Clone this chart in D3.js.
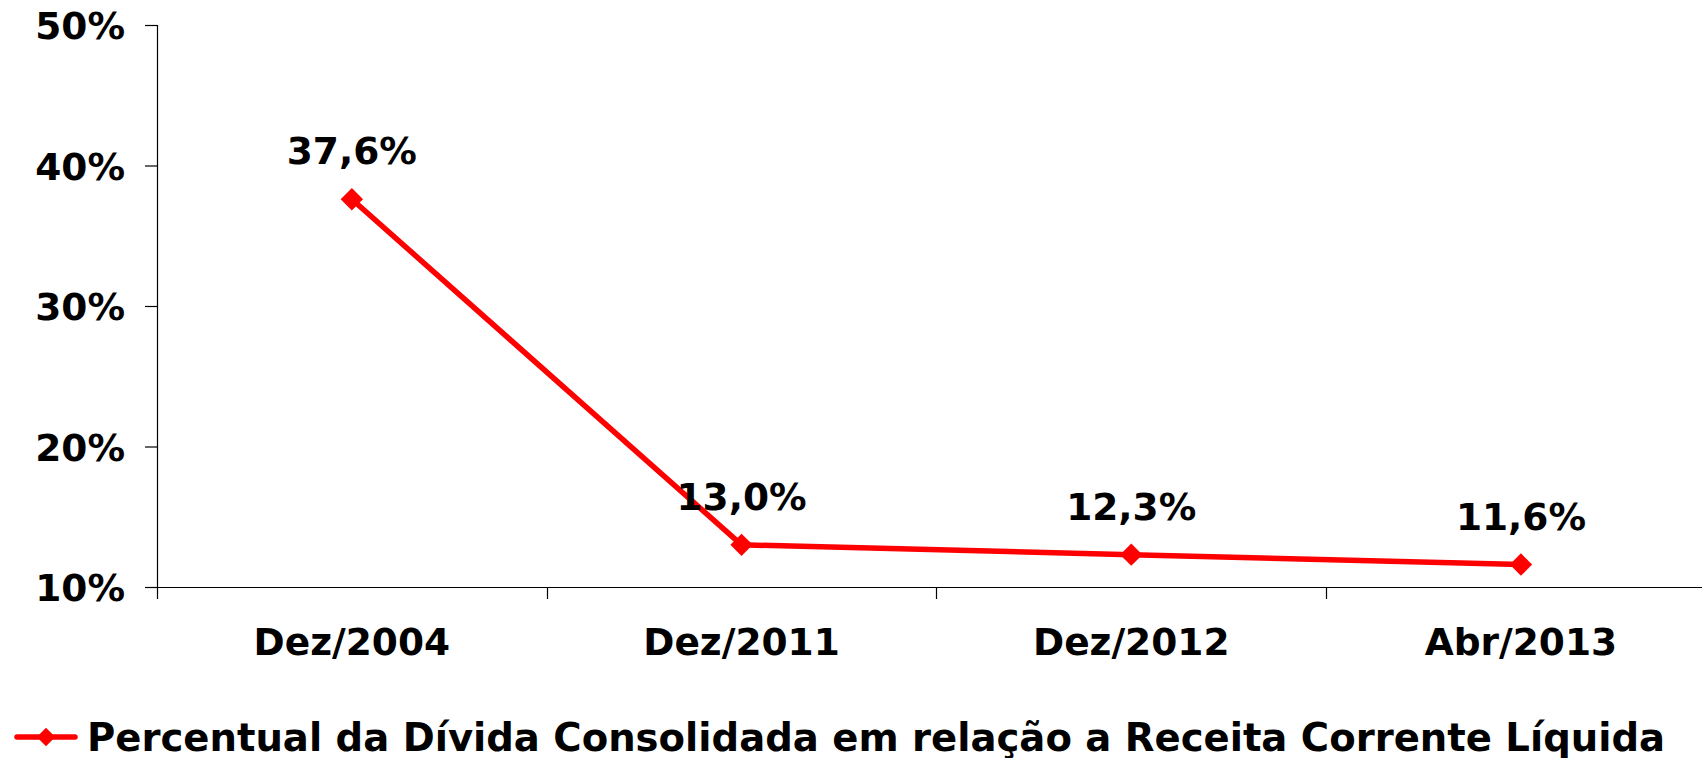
<!DOCTYPE html>
<html>
<head>
<meta charset="utf-8">
<script src="https://cdn.jsdelivr.net/npm/d3@7"></script>
<style>
  html, body { margin: 0; padding: 0; background: #fff; }
  svg { display: block; }
  text { font-family: "DejaVu Sans", sans-serif; font-weight: bold; fill: #000; }
</style>
</head>
<body>
<svg id="chart" width="1702" height="758"></svg>
<script>
const categories = ["Dez/2004", "Dez/2011", "Dez/2012", "Abr/2013"];
const values = [37.6, 13.0, 12.3, 11.6];
const valueLabels = ["37,6%", "13,0%", "12,3%", "11,6%"];
const yTicks = [10, 20, 30, 40, 50];
const seriesName = "Percentual da Dívida Consolidada em relação a Receita Corrente Líquida";

(function () {
const W = 1702, H = 758;
const plotLeft = 157, plotTop = 25, plotBottom = 587;
const bandW = 389.7;
const fontSize = 37.5;
const red = "#FF0000";

const svg = d3.select("#chart");

const x = d3.scaleBand().domain(categories).range([plotLeft, plotLeft + bandW * categories.length]);
const y = d3.scaleLinear().domain([10, 50]).range([plotBottom, plotTop]);

// Y axis
const yAxis = svg.append("g").attr("transform", `translate(${plotLeft},0)`)
  .call(d3.axisLeft(y).tickValues(yTicks).tickSize(12).tickPadding(20).tickFormat(d => d + "%"));
yAxis.select(".domain").attr("stroke", "#000").attr("stroke-width", 1.2).attr("d", `M0.5,${plotTop}V${plotBottom + 12}`);
yAxis.selectAll(".tick line").attr("stroke", "#000").attr("stroke-width", 1.2);
yAxis.selectAll(".tick text").attr("font-size", fontSize).attr("font-family", "DejaVu Sans").attr("font-weight", "bold").attr("fill", "#000").attr("dy", "0.36em");

// X axis
const xTickPositions = d3.range(categories.length + 1).map(i => plotLeft + i * bandW);
const xg = svg.append("g");
xg.append("line").attr("x1", plotLeft).attr("x2", W).attr("y1", plotBottom + 0.5).attr("y2", plotBottom + 0.5)
  .attr("stroke", "#000").attr("stroke-width", 1.2);
xg.selectAll("line.xt").data(xTickPositions.slice(1)).enter().append("line").attr("class", "xt")
  .attr("x1", d => Math.round(d) + 0.5).attr("x2", d => Math.round(d) + 0.5)
  .attr("y1", plotBottom).attr("y2", plotBottom + 12).attr("stroke", "#000").attr("stroke-width", 1.2);
xg.selectAll("text.xl").data(categories).enter().append("text").attr("class", "xl")
  .attr("x", d => x(d) + x.bandwidth() / 2).attr("y", 655)
  .attr("text-anchor", "middle").attr("font-size", fontSize).text(d => d);

// Line
const pts = categories.map((c, i) => ({ c, v: values[i], label: valueLabels[i] }));
const line = d3.line().x(d => x(d.c) + x.bandwidth() / 2).y(d => y(d.v));
svg.append("path").datum(pts).attr("d", line).attr("fill", "none")
  .attr("stroke", red).attr("stroke-width", 5.5).attr("stroke-linejoin", "round");

const diamond = d3.symbol().type(d3.symbolSquare).size(250);
svg.selectAll("path.mk").data(pts).enter().append("path").attr("class", "mk")
  .attr("d", diamond)
  .attr("transform", d => `translate(${x(d.c) + x.bandwidth() / 2},${y(d.v)}) rotate(45)`)
  .attr("fill", red);

svg.selectAll("text.vl").data(pts).enter().append("text").attr("class", "vl")
  .attr("x", d => x(d.c) + x.bandwidth() / 2).attr("y", d => y(d.v) - 35)
  .attr("text-anchor", "middle").attr("font-size", fontSize).text(d => d.label);

// Legend
const lg = svg.append("g");
lg.append("line").attr("x1", 17).attr("x2", 75).attr("y1", 737).attr("y2", 737)
  .attr("stroke", red).attr("stroke-width", 5.5).attr("stroke-linecap", "round");
lg.append("path").attr("d", d3.symbol().type(d3.symbolSquare).size(170))
  .attr("transform", "translate(46,737) rotate(45)").attr("fill", red);
lg.append("text").attr("x", 87).attr("y", 751).attr("font-size", 38.6).text(seriesName);
})();
</script>
</body>
</html>
